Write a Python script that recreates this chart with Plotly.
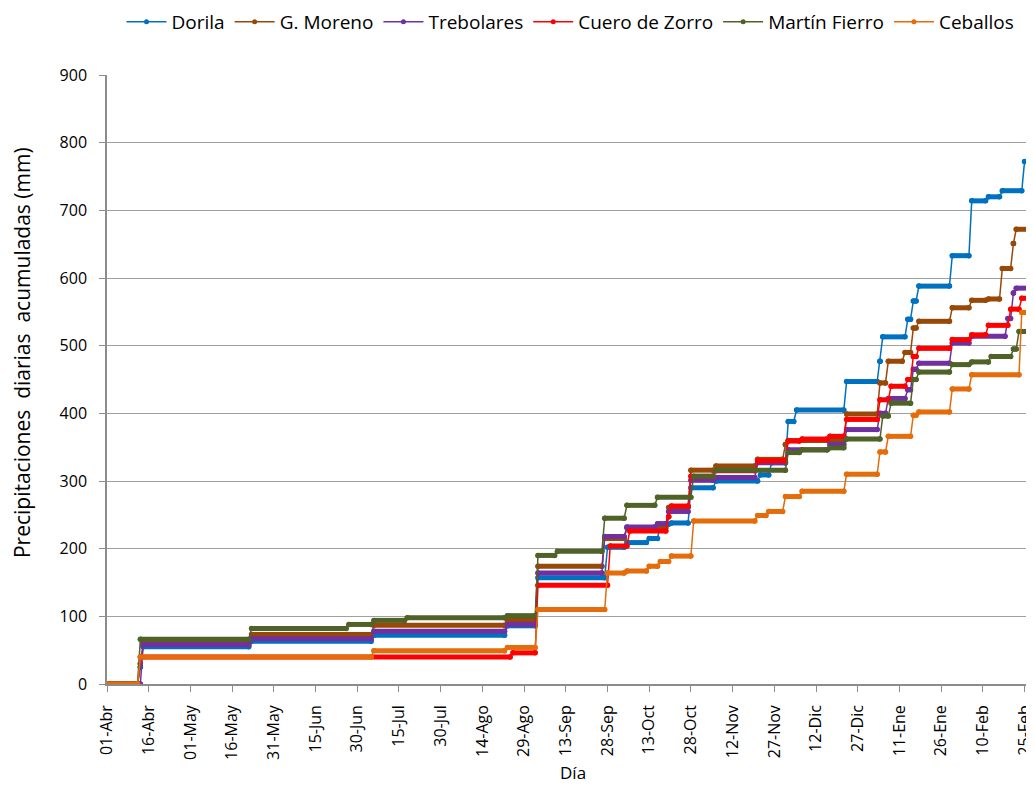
import plotly.graph_objects as go

# Último día mostrado (día 0 = 01-Abr)
FIN = 333

tick_dias = list(range(0, 331, 15))
tick_labels = ["01-Abr", "16-Abr", "01-May", "16-May", "31-May", "15-Jun", "30-Jun",
               "15-Jul", "30-Jul", "14-Ago", "29-Ago", "13-Sep", "28-Sep", "13-Oct",
               "28-Oct", "12-Nov", "27-Nov", "12-Dic", "27-Dic", "11-Ene", "26-Ene",
               "10-Feb", "25-Feb"]

# Días (desde 01-Abr) en que cambia el acumulado y valor acumulado (mm)
dorila_dias = [0, 12, 13, 52, 96, 144, 155, 180, 187, 195, 199, 203, 210, 219, 235, 239,
               245, 248, 266, 278, 279, 288, 290, 292, 304, 311, 317, 322, 330]
dorila_mm = [0, 25, 55, 63, 72, 86, 157, 202, 209, 215, 236, 238, 290, 300, 309, 327,
             388, 405, 447, 477, 513, 539, 566, 588, 633, 714, 720, 729, 772]

moreno_dias = [0, 12, 13, 52, 96, 144, 155, 179, 187, 202, 210, 219, 234, 244, 245, 266,
               278, 281, 287, 290, 292, 304, 311, 317, 322, 326, 327]
moreno_mm = [0, 30, 60, 73, 87, 94, 174, 215, 231, 261, 316, 322, 332, 354, 360, 399,
             445, 477, 490, 526, 536, 556, 567, 569, 614, 651, 672]

trebol_dias = [0, 13, 52, 96, 144, 155, 179, 187, 198, 202, 210, 219, 234, 245, 260, 266,
               278, 281, 288, 290, 292, 304, 311, 324, 326, 327]
trebol_mm = [0, 58, 67, 78, 88, 164, 218, 232, 237, 255, 301, 305, 327, 346, 354, 376,
             400, 422, 435, 465, 474, 504, 514, 540, 578, 585]

cuero_dias = [0, 12, 146, 155, 181, 188, 202, 203, 210, 219, 234, 245, 250, 260, 266, 278,
              282, 288, 290, 292, 304, 311, 317, 325, 329]
cuero_mm = [0, 40, 46, 146, 204, 226, 247, 263, 307, 315, 330, 359, 362, 366, 391, 420,
            440, 450, 484, 496, 509, 516, 530, 554, 570]

fierro_dias = [0, 12, 52, 87, 96, 108, 144, 155, 162, 179, 187, 198, 211, 219, 245, 250,
               260, 266, 279, 282, 290, 292, 304, 311, 318, 326, 328]
fierro_mm = [0, 66, 82, 88, 94, 98, 101, 190, 196, 245, 264, 276, 307, 316, 342, 346,
             349, 362, 396, 415, 450, 461, 472, 476, 484, 495, 521]

ceballos_dias = [0, 12, 96, 144, 155, 180, 187, 195, 199, 203, 211, 234, 238, 244, 250, 266,
                 278, 281, 290, 292, 304, 311, 329]
ceballos_mm = [0, 40, 49, 54, 110, 164, 167, 174, 181, 189, 241, 249, 255, 277, 285, 310,
               343, 366, 397, 402, 436, 457, 549]

series = [
    ("Dorila", dorila_dias, dorila_mm, "#0070C0"),
    ("G. Moreno", moreno_dias, moreno_mm, "#984807"),
    ("Trebolares", trebol_dias, trebol_mm, "#7030A0"),
    ("Cuero de Zorro", cuero_dias, cuero_mm, "#FF0000"),
    ("Martín Fierro", fierro_dias, fierro_mm, "#4F6228"),
    ("Ceballos", ceballos_dias, ceballos_mm, "#E46C0A"),
]

FONT = "Open Sans, Lato, Arial, sans-serif"

fig = go.Figure()
for nombre, dias, mm, color in series:
    xs, ys, bx, by = [], [], [], []
    for i, (d, v) in enumerate(zip(dias, mm)):
        fin = dias[i + 1] - 1 if i + 1 < len(dias) else FIN
        xs += [d, fin]
        ys += [v, v]
        bx += [d, fin, None]
        by += [v, v, None]
    fig.add_trace(go.Scatter(x=xs, y=ys, mode="lines+markers", name=nombre,
                             line=dict(color=color, width=1.5),
                             marker=dict(color=color, size=5),
                             legendgroup=nombre, hoverinfo="skip"))
    fig.add_trace(go.Scatter(x=bx, y=by, mode="lines+markers", showlegend=False,
                             line=dict(color=color, width=5),
                             marker=dict(color=color, size=5.5),
                             legendgroup=nombre, hoverinfo="skip"))

grey = "#8C8C8C"
# The page body adds an 8 px offset, so the figure is 8 px smaller and margins shifted
fig.update_layout(
    width=1026, height=801,
    margin=dict(l=99, r=0, t=67, b=125, autoexpand=False),
    paper_bgcolor="white", plot_bgcolor="white",
    font=dict(family=FONT, color="#000000", size=16),
    showlegend=True,
    legend=dict(orientation="h", x=0.5, xanchor="center", y=1.087, yanchor="middle",
                font=dict(size=19, family=FONT), itemwidth=40, tracegroupgap=0),
    xaxis=dict(range=[0, 333.4], tickmode="array", tickvals=tick_dias, ticktext=tick_labels,
               tickangle=-90, ticks="outside", ticklen=6, tickcolor=grey, tickwidth=1.3,
               showline=True, linecolor=grey, linewidth=1.5, showgrid=False, zeroline=False,
               automargin=False, ticklabelstandoff=7, ticklabeloverflow="allow",
               tickfont=dict(size=16, family=FONT, color="#000000")),
    yaxis=dict(range=[0, 900], tick0=0, dtick=100, ticks="outside", ticklen=6,
               tickcolor=grey, tickwidth=1.3, showline=True, linecolor=grey, linewidth=1.5,
               showgrid=True, gridcolor="#A0A0A0", gridwidth=1.3, zeroline=False,
               automargin=False, ticklabelstandoff=9,
               tickfont=dict(size=16, family=FONT, color="#000000")),
    annotations=[
        dict(text="Precipitaciones\u00a0 diarias\u00a0 acumuladas (mm)", textangle=-90,
             xref="paper", yref="paper", x=-0.0917, y=0.545, xanchor="center",
             yanchor="middle", showarrow=False, font=dict(size=21, family=FONT)),
        dict(text="Día", xref="paper", yref="paper", x=0.503, y=-0.146,
             xanchor="center", yanchor="middle", showarrow=False,
             font=dict(size=17, family=FONT)),
    ],
)

fig.write_html("out.html")
